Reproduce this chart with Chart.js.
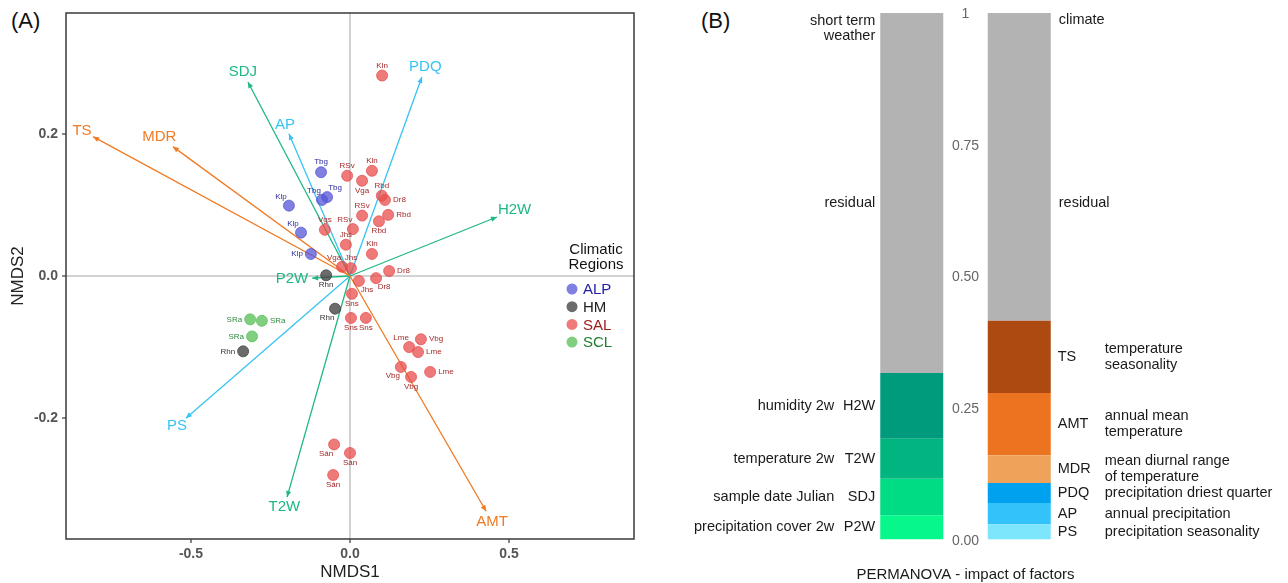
<!DOCTYPE html>
<html>
<head>
<meta charset="utf-8">
<script src="https://cdn.jsdelivr.net/npm/chart.js@4"></script>
<style>
  body { margin: 0; background: #fff; width: 1288px; height: 583px; position: relative; overflow: hidden; font-family: "Liberation Sans", Arial, sans-serif; }
  canvas { position: absolute; top: 0; }
  #nmds { left: 0; }
  #perm { left: 650px; }
  .tag { position: absolute; top: 10px; font-size: 22px; line-height: 1; color: #111; }
</style>
</head>
<body>
<div class="tag" style="left:11px">(A)</div>
<div class="tag" style="left:701px">(B)</div>
<canvas id="nmds" width="650" height="583"></canvas>
<canvas id="perm" width="638" height="583"></canvas>
<script>
// ---- panel A data: NMDS site scores ----
var regions = ["ALP", "HM", "SAL", "SCL"];

var alpX = [-0.091, -0.088, -0.072, -0.192, -0.154, -0.123];
var alpY = [0.146, 0.107, 0.111, 0.099, 0.061, 0.031];
var alpSite = ["Tbg", "Tbg", "Tbg", "Klp", "Klp", "Klp"];

var hmX = [-0.075, -0.047, -0.336];
var hmY = [0.001, -0.046, -0.106];
var hmSite = ["Rhn", "Rhn", "Rhn"];

var salX = [-0.009, 0.069, 0.038, 0.100, 0.110, 0.038, 0.120, 0.091, 0.009, -0.079,
            -0.013, 0.069, -0.025, 0.003, 0.123, 0.082, 0.028, 0.006, 0.003, 0.050,
            0.101, 0.223, 0.186, 0.214, 0.160, 0.192, 0.252, -0.050, 0.000, -0.053];
var salY = [0.141, 0.148, 0.134, 0.113, 0.107, 0.085, 0.086, 0.077, 0.066, 0.065,
            0.044, 0.031, 0.013, 0.011, 0.007, -0.003, -0.007, -0.025, -0.059, -0.059,
            0.282, -0.089, -0.100, -0.107, -0.128, -0.142, -0.135, -0.237, -0.249, -0.280];
var salSite = ["RSv", "Kln", "Vga", "Rbd", "Dr8", "RSv", "Rbd", "Rbd", "RSv", "Vgs",
               "Jhs", "Kln", "Vga", "Jhs", "Dr8", "Dr8", "Jhs", "Sns", "Sns", "Sns",
               "Kln", "Vbg", "Lme", "Lme", "Vbg", "Vbg", "Lme", "Sán", "Sán", "Sán"];

var sclX = [-0.314, -0.277, -0.308];
var sclY = [-0.061, -0.063, -0.085];
var sclSite = ["SRa", "SRa", "SRa"];

// fitted environmental vectors
var envFactor = ["TS", "MDR", "AMT", "SDJ", "H2W", "P2W", "T2W", "AP", "PDQ", "PS"];
var envX = [-0.808, -0.557, 0.428, -0.321, 0.462, -0.119, -0.198, -0.192, 0.226, -0.516];
var envY = [0.196, 0.182, -0.331, 0.273, 0.083, -0.003, -0.311, 0.200, 0.280, -0.200];
var envGroup = ["temperature", "temperature", "temperature", "weather", "weather", "weather", "weather",
                "precipitation", "precipitation", "precipitation"];

var xTicksA = [-0.5, 0, 0.5];
var yTicksA = [-0.2, 0, 0.2];

// ---- panel B data: PERMANOVA shares ----
var barGroups = ["short term weather", "climate"];
var weatherCodes = ["P2W", "SDJ", "T2W", "H2W"];
var weatherNames = ["precipitation cover 2w", "sample date Julian", "temperature 2w", "humidity 2w"];
var weatherShares = [0.047, 0.069, 0.076, 0.125];
var weatherResidual = 0.683;
var climateCodes = ["PS", "AP", "PDQ", "MDR", "AMT", "TS"];
var climateNames = ["precipitation seasonality", "annual precipitation", "precipitation driest quarter",
                    "mean diurnal range\nof temperature", "annual mean\ntemperature", "temperature\nseasonality"];
var climateShares = [0.030, 0.040, 0.038, 0.053, 0.118, 0.137];
var climateResidual = 0.584;
var yTicksB = [0, 0.25, 0.5, 0.75, 1];
var yTickTextB = ["0.00", "0.25", "0.50", "0.75", "1"];

// ---- styles ----
var pointFill = { ALP: "rgba(85,85,215,0.75)", HM: "rgba(70,70,70,0.8)", SAL: "rgba(232,78,78,0.75)", SCL: "rgba(95,195,95,0.8)" };
var labelColor = { ALP: "#2b2ba0", HM: "#333333", SAL: "#a52a2a", SCL: "#2e8b3e" };
var legendColor = { ALP: "#2020a8", HM: "#222222", SAL: "#a01c1c", SCL: "#1d7d30" };
var arrowColor = { temperature: "#f07a22", weather: "#1fb882", precipitation: "#36c4f4" };
var factorColor = {
  H2W: "#009b7d", T2W: "#00b57f", SDJ: "#00dc84", P2W: "#06f78a",
  TS: "#ad4a11", AMT: "#ec7420", MDR: "#efa35a", PDQ: "#00a2ef", AP: "#33c3fa", PS: "#7ee6fc"
};
// where each site label sits relative to its point
var labelPlace = {
  ALP: ["t", "tl", "tr", "tl", "tl", "l"],
  HM: ["b", "bl", "l"],
  SAL: ["t", "t", "b", "t", "r", "t", "r", "b", "tl", "t",
        "t", "t", "tl", "t", "r", "br", "br", "b", "b", "b",
        "t", "r", "tl", "r", "bl", "b", "r", "bl", "b", "b"],
  SCL: ["l", "r", "l"]
};
var FONT = "'Liberation Sans', Arial, sans-serif";

function points(xs, ys) {
  return xs.map(function (x, i) { return { x: x, y: ys[i] }; });
}

var siteData = { ALP: [alpX, alpY, alpSite], HM: [hmX, hmY, hmSite], SAL: [salX, salY, salSite], SCL: [sclX, sclY, sclSite] };

var datasetsA = regions.map(function (r) {
  return {
    label: r,
    data: points(siteData[r][0], siteData[r][1]),
    sites: siteData[r][2],
    region: r,
    backgroundColor: pointFill[r],
    borderColor: pointFill[r],
    borderWidth: 1,
    pointRadius: 5.5,
    order: 1
  };
});

envFactor.forEach(function (f, i) {
  datasetsA.push({
    label: f,
    isArrow: true,
    data: [{ x: 0, y: 0 }, { x: envX[i], y: envY[i] }],
    showLine: true,
    borderColor: arrowColor[envGroup[i]],
    borderWidth: 1.3,
    pointRadius: 0,
    order: 2
  });
});

var zeroGrid = function (ctx) {
  return ctx.tick && ctx.tick.value === 0 ? "#d2d2d2" : "rgba(0,0,0,0)";
};

// arrow heads, site labels, frame and region legend
var nmdsDecor = {
  id: "nmdsDecor",
  afterDatasetsDraw: function (chart) {
    var c = chart.ctx;
    c.save();
    chart.data.datasets.forEach(function (ds, di) {
      var meta = chart.getDatasetMeta(di);
      if (ds.isArrow) {
        var o = meta.data[0], t = meta.data[1];
        var dx = t.x - o.x, dy = t.y - o.y, len = Math.sqrt(dx * dx + dy * dy);
        var ux = dx / len, uy = dy / len;
        c.fillStyle = ds.borderColor;
        c.beginPath();
        c.moveTo(t.x, t.y);
        c.lineTo(t.x - ux * 6 - uy * 2.6, t.y - uy * 6 + ux * 2.6);
        c.lineTo(t.x - ux * 6 + uy * 2.6, t.y - uy * 6 - ux * 2.6);
        c.closePath();
        c.fill();
        c.font = "15px " + FONT;
        c.textAlign = "center";
        c.textBaseline = "middle";
        var w = c.measureText(ds.label).width;
        var k = 9 + ux * ux * (w / 2 - 5);
        c.fillText(ds.label, t.x + ux * k, t.y + uy * k);
      } else {
        c.font = "8px " + FONT;
        c.fillStyle = labelColor[ds.region];
        c.textBaseline = "middle";
        c.textAlign = "center";
        meta.data.forEach(function (p, j) {
          var txt = ds.sites[j], pos = labelPlace[ds.region][j];
          var w = c.measureText(txt).width;
          var ox = 0, oy = 0;
          if (pos === "t") oy = -10;
          if (pos === "b") oy = 10;
          if (pos === "l") ox = -(w / 2 + 8);
          if (pos === "r") ox = w / 2 + 8;
          if (pos === "tl") { ox = -8; oy = -9; }
          if (pos === "tr") { ox = 8; oy = -9; }
          if (pos === "bl") { ox = -8; oy = 9; }
          if (pos === "br") { ox = 8; oy = 9; }
          c.fillText(txt, p.x + ox, p.y + oy);
        });
      }
    });
    c.restore();
  },
  afterDraw: function (chart) {
    var c = chart.ctx, a = chart.chartArea;
    c.save();
    c.strokeStyle = "#3a3a3a";
    c.lineWidth = 1.5;
    c.strokeRect(a.left, a.top, a.right - a.left, a.bottom - a.top);

    // legend
    var y0 = chart.scales.y.getPixelForValue(0);
    var cx = a.right - 38;
    c.font = "15px " + FONT;
    c.fillStyle = "#111";
    c.textAlign = "center";
    c.textBaseline = "middle";
    c.fillText("Climatic", cx, y0 - 26);
    c.fillText("Regions", cx, y0 - 11);
    regions.forEach(function (r, i) {
      var yy = y0 + 13 + i * 17.7;
      c.fillStyle = pointFill[r];
      c.beginPath();
      c.arc(a.right - 62, yy, 5.5, 0, Math.PI * 2);
      c.fill();
      c.fillStyle = legendColor[r];
      c.textAlign = "left";
      c.fillText(r, a.right - 51, yy + 1);
    });
    c.restore();
  }
};

new Chart(document.getElementById("nmds"), {
  type: "scatter",
  data: { datasets: datasetsA },
  options: {
    responsive: false,
    animation: false,
    layout: { padding: { top: 13, right: 16, left: 0, bottom: 0 } },
    plugins: { legend: { display: false }, tooltip: { enabled: false } },
    scales: {
      x: {
        type: "linear", min: -0.893, max: 0.893,
        afterBuildTicks: function (s) { s.ticks = xTicksA.map(function (v) { return { value: v }; }); },
        afterFit: function (s) { s.height = 44; },
        ticks: { color: "#555", padding: 3, font: { family: FONT, size: 14, weight: "bold" },
                 callback: function (v) { return v.toFixed(1); } },
        grid: { color: zeroGrid, lineWidth: 2, tickColor: "#888", tickLength: 4 },
        border: { display: false },
        title: { display: true, text: "NMDS1", color: "#222", padding: 0, font: { family: FONT, size: 17 } }
      },
      y: {
        type: "linear", min: -0.37, max: 0.37,
        afterBuildTicks: function (s) { s.ticks = yTicksA.map(function (v) { return { value: v }; }); },
        afterFit: function (s) { s.width = 66; },
        ticks: { color: "#555", padding: 4, font: { family: FONT, size: 14, weight: "bold" },
                 callback: function (v) { return v.toFixed(1); } },
        grid: { color: zeroGrid, lineWidth: 2, tickColor: "#888", tickLength: 4 },
        border: { display: false },
        title: { display: true, text: "NMDS2", color: "#222", padding: { top: 8, bottom: 0 }, font: { family: FONT, size: 17 } }
      }
    }
  },
  plugins: [nmdsDecor]
});

// ---- panel B ----
var datasetsB = [];
weatherCodes.forEach(function (code, i) {
  datasetsB.push({ label: code, name: weatherNames[i], side: 0, data: [weatherShares[i], null], backgroundColor: factorColor[code] });
});
climateCodes.forEach(function (code, i) {
  datasetsB.push({ label: code, name: climateNames[i], side: 1, data: [null, climateShares[i]], backgroundColor: factorColor[code] });
});
datasetsB.push({ label: "residual", residual: true, data: [weatherResidual, climateResidual], backgroundColor: "#b3b3b3" });

function lines(c, txt, x, y, gap) {
  var parts = txt.split("\n");
  parts.forEach(function (p, k) {
    c.fillText(p, x, y + (k - (parts.length - 1) / 2) * gap);
  });
}

var permDecor = {
  id: "permDecor",
  afterDraw: function (chart) {
    var c = chart.ctx, ys = chart.scales.y, xs = chart.scales.x;
    c.save();
    c.textBaseline = "middle";
    // value axis between the bars
    var mid = (xs.getPixelForValue(0) + xs.getPixelForValue(1)) / 2;
    c.font = "14px " + FONT;
    c.fillStyle = "#666";
    c.textAlign = "center";
    yTicksB.forEach(function (v, i) { c.fillText(yTickTextB[i], mid, ys.getPixelForValue(v) + 1); });

    var left = chart.getDatasetMeta(0).data[0];
    var right = chart.getDatasetMeta(weatherCodes.length).data[1];
    var lEdge = left.x - left.width / 2, rEdge = right.x + right.width / 2;

    c.font = "14.5px " + FONT;
    c.fillStyle = "#1a1a1a";
    chart.data.datasets.forEach(function (ds, di) {
      if (ds.residual) return;
      var el = chart.getDatasetMeta(di).data[ds.side];
      var yy = (el.y + el.base) / 2;
      if (ds.side === 0) {
        c.textAlign = "right";
        c.fillText(ds.label, lEdge - 5, yy);
        lines(c, ds.name, lEdge - 46, yy, 15.5);
      } else {
        c.textAlign = "left";
        c.fillText(ds.label, rEdge + 7, yy);
        lines(c, ds.name, rEdge + 54, yy, 15.5);
      }
    });
    var top = ys.getPixelForValue(1);
    var resY = ys.getPixelForValue(0.64);
    c.textAlign = "right";
    c.fillText("short term", lEdge - 5, top + 8);
    c.fillText("weather", lEdge - 5, top + 23);
    c.fillText("residual", lEdge - 5, resY);
    c.textAlign = "left";
    c.fillText("climate", rEdge + 8, top + 7);
    c.fillText("residual", rEdge + 8, resY);

    c.font = "15px " + FONT;
    c.textAlign = "center";
    c.fillText("PERMANOVA - impact of factors", mid, 575);
    c.restore();
  }
};

new Chart(document.getElementById("perm"), {
  type: "bar",
  data: { labels: barGroups, datasets: datasetsB },
  options: {
    responsive: false,
    animation: false,
    layout: { padding: { top: 13, bottom: 43, left: 208, right: 215 } },
    plugins: { legend: { display: false }, tooltip: { enabled: false } },
    datasets: { bar: { categoryPercentage: 1, barPercentage: 0.586, borderWidth: 0 } },
    scales: {
      x: { stacked: true, display: false },
      y: {
        stacked: true, min: 0, max: 1, z: 1,
        afterBuildTicks: function (s) { s.ticks = yTicksB.map(function (v) { return { value: v }; }); },
        afterFit: function (s) { s.width = 0; },
        ticks: { display: false },
        grid: {
          drawTicks: false, lineWidth: 1.5,
          color: function (ctx) { var v = ctx.tick && ctx.tick.value; return v > 0 && v < 1 ? "#ffffff" : "rgba(0,0,0,0)"; }
        },
        border: { display: false }
      }
    }
  },
  plugins: [permDecor]
});
</script>
</body>
</html>
